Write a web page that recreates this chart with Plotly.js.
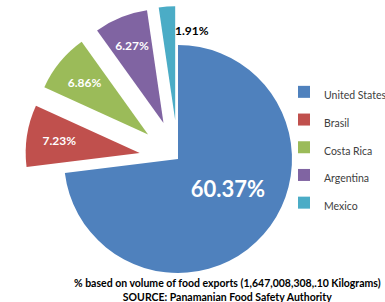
<!DOCTYPE html>
<html>
<head>
<meta charset="utf-8">
<script src="https://cdn.plot.ly/plotly-3.0.1.min.js"></script>
<style>
html,body{margin:0;padding:0;overflow:hidden;background:#fff;}
#chart{width:385px;height:320px;}
</style>
</head>
<body>
<div id="chart"></div>
<script>
var countries = ["United States", "Brasil", "Costa Rica", "Argentina", "Mexico"];
var shares = [60.37, 7.23, 6.86, 6.27, 1.91];
var colors = ["#4F81BD", "#C0504D", "#9BBB59", "#8064A2", "#4BACC6"];
var footnote = "% based on volume of food exports (1,647,008,308,.10 Kilograms)";
var source = "SOURCE: Panamanian Food Safety Authority";

var W = 385, H = 320;
var cx = 178, cy = 159;
var R = 114, P = 0.34;      // slice radius and explode fraction
var Rt = 106.6;             // radius of the label-only layer

function dom(r, dx, dy) {
  var half = r * (1 + P);
  var x0 = cx + dx, y0 = cy + dy;
  return {x: [(x0 - half) / W, (x0 + half) / W], y: [1 - (y0 + half) / H, 1 - (y0 - half) / H]};
}
var pulls = [0, P, P, P, P];
var clear = countries.map(function(){ return "rgba(0,0,0,0)"; });

var slices = {
  type: "pie",
  labels: countries.map(function(c){ return '<span style="font-size:10.5px">' + c + '</span>'; }),
  values: shares,
  sort: false,
  direction: "clockwise",
  rotation: 0,
  pull: pulls,
  marker: {colors: colors, line: {width: 0}},
  textposition: "none",
  hoverinfo: "none",
  domain: dom(R, 0, 0)
};

function labelLayer(positions, dx, dy) {
  return {
    type: "pie",
    labels: countries,
    values: shares,
    sort: false,
    direction: "clockwise",
    rotation: 0,
    pull: pulls,
    showlegend: false,
    marker: {colors: clear, line: {width: 0}},
    texttemplate: "%{value:.2f}%",
    textposition: positions,
    insidetextorientation: "horizontal",
    textfont: {family: "Lato", weight: "bold", color: "#FFFFFF", size: [22, 12, 12, 12, 12]},
    hoverinfo: "none",
    domain: dom(Rt, dx, dy)
  };
}

var smallLabels = labelLayer(["none", "inside", "inside", "inside", "none"], 0, 0);
var bigLabel = labelLayer(["inside", "none", "none", "none", "none"], 10, -6);

var layout = {
  width: W, height: H,
  margin: {l: 0, r: 0, t: 0, b: 0, autoexpand: false},
  paper_bgcolor: "#FFFFFF",
  showlegend: true,
  legend: {
    x: 284 / W, xanchor: "left",
    y: 1 - 73 / H, yanchor: "top",
    font: {family: "Lato", size: 19, color: "#404040"},
    bgcolor: "rgba(0,0,0,0)"
  },
  annotations: [
    {
      xref: "paper", yref: "paper", x: 192 / W, y: 1 - 30 / H,
      xanchor: "center", yanchor: "middle", showarrow: false,
      text: "<b>" + shares[4].toFixed(2) + "%</b>",
      font: {family: "Lato", size: 12, color: "#000000"}
    },
    {
      xref: "paper", yref: "paper", x: 227 / W, y: 1 - 290 / H,
      xanchor: "center", yanchor: "middle", showarrow: false,
      text: "<b>" + footnote + "</b><br><b>" + source + "</b>",
      align: "center",
      font: {family: "Lato", size: 10.5, color: "#000000"}
    }
  ]
};

Plotly.newPlot("chart", [slices, smallLabels, bigLabel], layout, {displayModeBar: false, staticPlot: true});
</script>
</body>
</html>
